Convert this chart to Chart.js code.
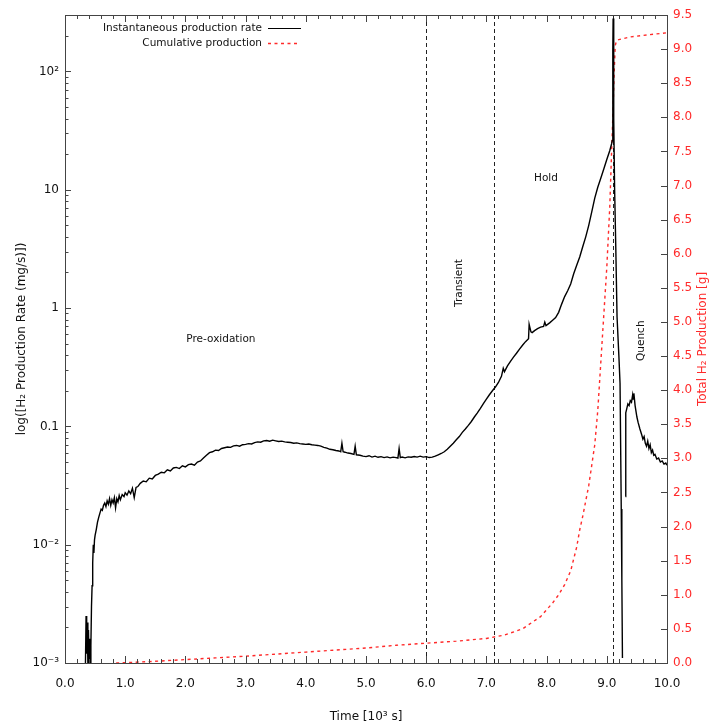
<!DOCTYPE html>
<html><head><meta charset="utf-8">
<script src="https://cdn.jsdelivr.net/npm/chart.js@4.4.1/dist/chart.umd.min.js"></script>
<style>html,body{margin:0;padding:0;background:#fff;}canvas{display:block;}</style>
</head><body>
<canvas id="c" width="717" height="727"></canvas>
<script>
// ---- data ----
const rateTime = [0.34,0.35,0.36,0.37,0.38,0.39,0.40,0.41,0.42,0.43,0.44,0.45,0.46,0.47,0.48,0.49,0.50,0.52,0.54,0.56,0.58,0.60,0.62,0.64,0.66,0.68,0.70,0.72,0.74,0.76,0.78,0.80,0.82,0.84,0.86,0.88,0.90,0.92,0.95,0.98,1.00,1.03,1.06,1.09,1.12,1.15,1.18,1.21,1.25,1.30,1.35,1.40,1.45,1.50,1.55,1.60,1.65,1.70,1.75,1.80,1.85,1.90,1.95,2.00,2.05,2.10,2.15,2.20,2.25,2.30,2.35,2.40,2.45,2.50,2.55,2.60,2.65,2.70,2.75,2.80,2.85,2.90,2.95,3.00,3.05,3.10,3.15,3.20,3.25,3.30,3.35,3.40,3.45,3.50,3.55,3.60,3.65,3.70,3.75,3.80,3.85,3.90,3.95,4.00,4.05,4.10,4.15,4.20,4.25,4.30,4.35,4.40,4.45,4.50,4.55,4.58,4.60,4.62,4.65,4.70,4.75,4.80,4.82,4.84,4.90,4.95,5.00,5.05,5.10,5.15,5.20,5.25,5.30,5.35,5.40,5.45,5.50,5.53,5.55,5.57,5.60,5.65,5.70,5.75,5.80,5.85,5.90,5.95,6.00,6.05,6.10,6.15,6.20,6.25,6.30,6.35,6.40,6.45,6.50,6.55,6.60,6.65,6.70,6.75,6.80,6.85,6.90,6.95,7.00,7.05,7.10,7.15,7.20,7.25,7.28,7.30,7.35,7.40,7.45,7.50,7.55,7.60,7.65,7.70,7.71,7.74,7.76,7.80,7.85,7.90,7.95,7.97,7.99,8.05,8.10,8.15,8.20,8.25,8.30,8.35,8.40,8.45,8.50,8.55,8.60,8.65,8.70,8.75,8.80,8.85,8.90,8.95,9.00,9.05,9.08,9.09,9.10,9.105,9.115,9.13,9.15,9.17,9.20,9.22,9.24,9.25,9.26,9.28,9.31,9.315,9.33,9.35,9.37,9.39,9.41,9.43,9.44,9.45,9.47,9.50,9.52,9.55,9.58,9.60,9.62,9.64,9.66,9.68,9.70,9.72,9.74,9.76,9.78,9.80,9.83,9.86,9.89,9.92,9.95,9.98,10.0];
const rateValue = [0.0010,0.0025,0.0012,0.0022,0.0010,0.0019,0.0010,0.0016,0.0010,0.0014,0.0030,0.0045,0.0070,0.0100,0.0085,0.0110,0.0120,0.0135,0.0155,0.0170,0.0185,0.0200,0.0195,0.0215,0.0225,0.0210,0.0235,0.0220,0.0245,0.0215,0.0240,0.0225,0.0250,0.0205,0.0245,0.0230,0.0260,0.0240,0.0265,0.0255,0.0275,0.0262,0.0285,0.0270,0.0300,0.0250,0.0305,0.0310,0.0330,0.0345,0.0340,0.0365,0.0360,0.0385,0.0395,0.0410,0.0405,0.0430,0.0420,0.0445,0.0450,0.0440,0.0465,0.0455,0.0475,0.0480,0.0470,0.0500,0.0510,0.0540,0.0570,0.0600,0.0610,0.0630,0.0625,0.0650,0.0660,0.0670,0.0665,0.0685,0.0690,0.0680,0.0700,0.0705,0.0715,0.0710,0.0730,0.0740,0.0735,0.0755,0.0760,0.0750,0.0765,0.0755,0.0745,0.0750,0.0740,0.0735,0.0730,0.0720,0.0725,0.0715,0.0710,0.0705,0.0710,0.0700,0.0695,0.0690,0.0680,0.0665,0.0655,0.0640,0.0635,0.0625,0.0620,0.0610,0.0720,0.0610,0.0605,0.0595,0.0590,0.0580,0.0680,0.0575,0.0570,0.0560,0.0555,0.0565,0.0550,0.0560,0.0548,0.0555,0.0545,0.0552,0.0542,0.0550,0.0545,0.0540,0.0650,0.0545,0.0550,0.0542,0.0552,0.0548,0.0556,0.0550,0.0560,0.0550,0.0555,0.0545,0.0550,0.0560,0.0575,0.0590,0.0610,0.0640,0.0680,0.0720,0.0770,0.0820,0.0890,0.0950,0.1020,0.1100,0.1200,0.1300,0.1420,0.1560,0.1700,0.1850,0.2000,0.2150,0.2350,0.2650,0.3100,0.2900,0.3250,0.3550,0.3850,0.4150,0.4500,0.4850,0.5200,0.5500,0.7300,0.6300,0.6200,0.6450,0.6700,0.6900,0.7000,0.7600,0.7100,0.7500,0.7900,0.8300,0.9200,1.0800,1.2500,1.4000,1.6000,1.9500,2.3000,2.7000,3.3000,4.0000,5.0000,6.5000,8.5000,10.500,12.500,15.000,18.000,21.500,24.500,26.000,150.0,280.0,40.00,10.00,3.100,0.850,0.400,0.230,0.020,0.0050,0.0011,null,0.0255,0.1300,0.1400,0.1550,0.1500,0.1650,0.1600,0.1850,0.1700,0.1900,0.1500,0.1200,0.1080,0.0950,0.0850,0.0780,0.0820,0.0720,0.0680,0.0750,0.0650,0.0700,0.0600,0.0630,0.0570,0.0580,0.0530,0.0540,0.0500,0.0510,0.0480,0.0490,0.0470];
const cumTime  = [0.85,1.0,1.5,2.0,2.5,3.0,3.5,4.0,4.5,5.0,5.5,6.0,6.5,7.0,7.3,7.6,7.9,8.0,8.1,8.2,8.3,8.4,8.5,8.55,8.6,8.7,8.8,8.85,8.9,8.95,9.0,9.05,9.08,9.1,9.12,9.14,9.16,9.2,9.4,9.7,10.0];
const cumValue = [0.0,0.005,0.025,0.05,0.075,0.10,0.13,0.16,0.19,0.22,0.26,0.29,0.32,0.36,0.41,0.50,0.68,0.78,0.88,1.00,1.15,1.35,1.70,1.95,2.15,2.60,3.20,3.70,4.40,5.10,5.80,6.70,7.50,8.00,8.60,9.05,9.12,9.14,9.18,9.21,9.24];
const phaseBoundaries = [6.0, 7.12, 9.1];
const phaseNames = ['Pre-oxidation','Transient','Hold','Quench'];
const phaseNameTime = [2.59, 6.545, 7.99, 9.57];
const phaseNameRate = [0.55, 1.63, 12.6, 0.53];
const phaseNameRotated = [false, true, false, true];
const xTickValues = [0,1,2,3,4,5,6,7,8,9,10];
const rateDecades = [0.001,0.01,0.1,1,10,100];
const rateDecadeLabels = ['10\u207B\u00B3','10\u207B\u00B2','0.1','1','10','10\u00B2'];
const seriesNames = ['Instantaneous production rate','Cumulative production'];
const axisTitles = {x:'Time [10\u00B3 s]', y:'log([H\u2082 Production Rate (mg/s)])', y2:'Total H\u2082 Production [g]'};

const RED = '#ff2a2a';
const FONT = '"DejaVu Sans", sans-serif';

const rateData = rateTime.map((t,i)=>({x:t, y:rateValue[i]}));
const cumData = cumTime.map((t,i)=>({x:t, y:cumValue[i]}));

const deco = {
  id:'deco',
  beforeDraw(chart){
    const c = chart.ctx; c.save(); c.fillStyle='#fff'; c.fillRect(0,0,chart.width,chart.height); c.restore();
  },
  beforeDatasetsDraw(chart){
    const c = chart.ctx, a = chart.chartArea, xs = chart.scales.x;
    c.save();
    c.strokeStyle='#222'; c.lineWidth=1; c.setLineDash([4,3]);
    phaseBoundaries.forEach(t=>{
      const px = Math.round(xs.getPixelForValue(t))+0.5;
      c.beginPath(); c.moveTo(px,a.top); c.lineTo(px,a.bottom); c.stroke();
    });
    c.restore();
  },
  afterDraw(chart){
    const c = chart.ctx, a = chart.chartArea, xs = chart.scales.x, ys = chart.scales.y, y2 = chart.scales.y2;
    c.save();
    c.strokeStyle='#444'; c.lineWidth=1; c.setLineDash([]);
    c.strokeRect(Math.round(a.left)+0.5, Math.round(a.top)+0.5, Math.round(a.right-a.left), Math.round(a.bottom-a.top));
    c.beginPath();
    for(let k=0;k<=50;k++){
      const t = k/5; const px = Math.round(xs.getPixelForValue(t))+0.5;
      const L = (k%5===0)?7:4;
      c.moveTo(px,a.bottom); c.lineTo(px,a.bottom-L);
      c.moveTo(px,a.top); c.lineTo(px,a.top+L);
    }
    for(let d=-3; d<=2; d++){
      for(let m=1;m<=9;m++){
        const v = m*Math.pow(10,d); if(v>300.0001) break;
        const py = Math.round(ys.getPixelForValue(v))+0.5;
        const L = (m===1)?6:3.5;
        c.moveTo(a.left,py); c.lineTo(a.left+L,py);
      }
    }
    for(let k=0;k<=19;k++){
      const py = Math.round(y2.getPixelForValue(k*0.5))+0.5;
      c.moveTo(a.right,py); c.lineTo(a.right-6,py);
    }
    c.stroke();
    c.fillStyle='#111'; c.font='10.5px '+FONT; c.textAlign='center'; c.textBaseline='middle';
    phaseNames.forEach((s,i)=>{
      const px = xs.getPixelForValue(phaseNameTime[i]), py = ys.getPixelForValue(phaseNameRate[i]);
      c.save(); c.translate(px,py); if(phaseNameRotated[i]) c.rotate(-Math.PI/2); c.fillText(s,0,0); c.restore();
    });
    const lx = a.left+197, ly1 = a.top+13, ly2 = a.top+28;
    c.textAlign='right'; c.fillStyle='#111';
    c.fillText(seriesNames[0], lx, ly1);
    c.fillText(seriesNames[1], lx, ly2);
    c.strokeStyle='#000'; c.lineWidth=1.2;
    c.beginPath(); c.moveTo(lx+6,ly1+0.5); c.lineTo(lx+39,ly1+0.5); c.stroke();
    c.strokeStyle=RED; c.lineWidth=1.5; c.setLineDash([3,3.5]);
    c.beginPath(); c.moveTo(lx+6,ly2+0.5); c.lineTo(lx+37,ly2+0.5); c.stroke();
    c.setLineDash([]);
    c.font='12px '+FONT; c.textAlign='center'; c.fillStyle='#111';
    const cy = (a.top+a.bottom)/2;
    c.fillText(axisTitles.x, (a.left+a.right)/2, a.bottom+54);
    c.save(); c.translate(22,cy); c.rotate(-Math.PI/2); c.fillText(axisTitles.y,0,0); c.restore();
    c.fillStyle=RED;
    c.save(); c.translate(a.right+36,cy); c.rotate(-Math.PI/2); c.fillText(axisTitles.y2,0,0); c.restore();
    c.restore();
  }
};

new Chart(document.getElementById('c'), {
  type:'line',
  data:{ datasets:[
    { label:seriesNames[0], data:rateData, yAxisID:'y', borderColor:'#000', borderWidth:1.4, pointRadius:0, tension:0, spanGaps:false },
    { label:seriesNames[1], data:cumData, yAxisID:'y2', borderColor:RED, borderWidth:1.4, borderDash:[3,3.5], pointRadius:0, tension:0 }
  ]},
  options:{
    responsive:false, animation:false, devicePixelRatio:1,
    layout:{ padding:{ top:15, left:0, right:0, bottom:0 } },
    plugins:{ legend:{display:false}, tooltip:{enabled:false} },
    scales:{
      x:{ type:'linear', min:0, max:10, position:'bottom',
          grid:{display:false, drawTicks:false}, border:{display:false},
          afterBuildTicks:(s)=>{ s.ticks = xTickValues.map(v=>({value:v})); },
          ticks:{ autoSkip:false, maxRotation:0, padding:14, color:'#111', font:{family:FONT, size:12}, callback:(v)=>Number(v).toFixed(1) },
          afterFit:(s)=>{ s.height = 64; } },
      y:{ type:'logarithmic', min:0.001, max:300, position:'left',
          grid:{display:false, drawTicks:false}, border:{display:false},
          afterBuildTicks:(s)=>{ s.ticks = rateDecades.map(v=>({value:v, major:true})); },
          ticks:{ autoSkip:false, padding:6, color:'#111', font:{family:FONT, size:12},
                  callback:(v)=>{ const i = rateDecades.findIndex(d=>Math.abs(Math.log10(d)-Math.log10(v))<1e-6); return i>=0?rateDecadeLabels[i]:''; } },
          afterFit:(s)=>{ s.width = 65; } },
      y2:{ type:'linear', min:0, max:9.5, position:'right',
          grid:{display:false, drawTicks:false}, border:{display:false},
          ticks:{ stepSize:0.5, autoSkip:false, padding:6, color:RED, font:{family:FONT, size:12}, callback:(v)=>Number(v).toFixed(1) },
          afterFit:(s)=>{ s.width = 50; } }
    }
  },
  plugins:[deco]
});
</script>
</body></html>
